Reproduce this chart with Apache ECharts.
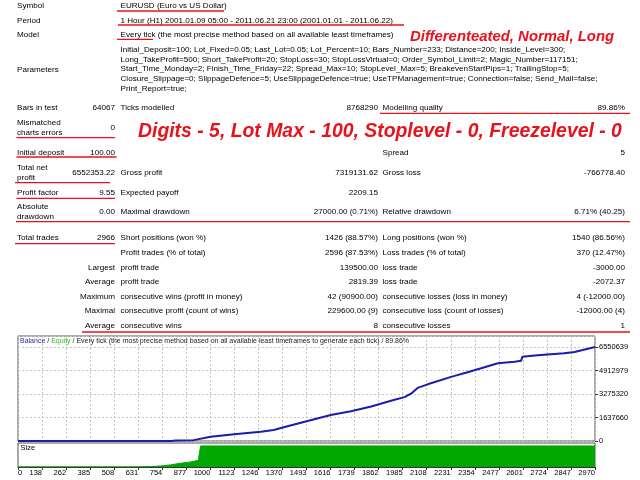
<!DOCTYPE html>
<html>
<head>
<meta charset="utf-8">
<script src="https://cdn.jsdelivr.net/npm/echarts@6.0.0/dist/echarts.min.js"></script>
<style>
  html, body { margin: 0; padding: 0; background: #fff; }
  #main { width: 640px; height: 480px; }
</style>
</head>
<body>
<div id="main"></div>
<script>
// 报告头部
const headerRows = [
  ['Symbol', 'EURUSD (Euro vs US Dollar)'],
  ['Period', '1 Hour (H1) 2001.01.09 05:00 - 2011.06.21 23:00 (2001.01.01 - 2011.06.22)'],
  ['Model', 'Every tick (the most precise method based on all available least timeframes)']
];
const paramLines = [
  'Initial_Deposit=100; Lot_Fixed=0.05; Last_Lot=0.05; Lot_Percent=10; Bars_Number=233; Distance=200; Inside_Level=300;',
  'Long_TakeProfit=500; Short_TakeProfit=20; StopLoss=30; StopLossVirtual=0; Order_Symbol_Limit=2; Magic_Number=117151;',
  'Start_Time_Monday=2; Finish_Time_Friday=22; Spread_Max=10; StopLevel_Max=5; BreakevenStartPips=1; TrailingStop=5;',
  'Closure_Slippage=0; SlippageDefence=5; UseSlippageDefence=true; UseTPManagement=true; Connection=false; Send_Mail=false;',
  'Print_Report=true;'
];
const noteTop = 'Differenteated, Normal, Long';
const noteMid = 'Digits - 5, Lot Max - 100, Stoplevel - 0, Freezelevel - 0';

// 统计表格
const summaryRows = [
  ['Bars in test', '64067', 'Ticks modelled', '8768290', 'Modelling quality', '89.86%'],
  ['Mismatched\ncharts errors', '0', '', '', '', ''],
  ['Initial deposit', '100.00', '', '', 'Spread', '5'],
  ['Total net\nprofit', '6552353.22', 'Gross profit', '7319131.62', 'Gross loss', '-766778.40'],
  ['Profit factor', '9.55', 'Expected payoff', '2209.15', '', ''],
  ['Absolute\ndrawdown', '0.00', 'Maximal drawdown', '27000.00 (0.71%)', 'Relative drawdown', '6.71% (40.25)'],
  ['Total trades', '2966', 'Short positions (won %)', '1426 (88.57%)', 'Long positions (won %)', '1540 (86.56%)']
];
const tradeRows = [
  ['', 'Profit trades (% of total)', '2596 (87.53%)', 'Loss trades (% of total)', '370 (12.47%)'],
  ['Largest', 'profit trade', '139500.00', 'loss trade', '-3000.00'],
  ['Average', 'profit trade', '2819.39', 'loss trade', '-2072.37'],
  ['Maximum', 'consecutive wins (profit in money)', '42 (90900.00)', 'consecutive losses (loss in money)', '4 (-12000.00)'],
  ['Maximal', 'consecutive profit (count of wins)', '229600.00 (9)', 'consecutive loss (count of losses)', '-12000.00 (4)'],
  ['Average', 'consecutive wins', '8', 'consecutive losses', '1']
];

// 图表数据
const balanceTrades = [0, 790, 810, 904, 992, 1113, 1250, 1316, 1368, 1456, 1560, 1610, 1714, 1818, 1920, 1989, 2023, 2057, 2109, 2229, 2314, 2384, 2470, 2556, 2590, 2596, 2675, 2811, 2865, 2970];
const balanceValues = [100, 5000, 30000, 60000, 300000, 467000, 648000, 767000, 955000, 1275000, 1640000, 1812000, 2070000, 2400000, 2800000, 3060000, 3300000, 3700000, 3950000, 4470000, 4790000, 5066000, 5415000, 5526000, 5600000, 5875000, 5972000, 6112000, 6202000, 6552453];
const sizeTrades = [0, 613, 683, 734, 785, 837, 890, 930, 940, 2970];
const sizeLots = [0.5, 2, 5, 10, 18, 24, 32, 45, 100, 100];
const xTickLabels = ['0', '138', '262', '385', '508', '631', '754', '877', '1000', '1123', '1246', '1370', '1493', '1616', '1739', '1862', '1985', '2108', '2231', '2354', '2477', '2601', '2724', '2847', '2970'];
const yTickLabels = ['0', '1637660', '3275320', '4912979', '6550639'];

// 版式
const FONT = '8.1px "Liberation Sans", Arial, sans-serif';
const RED = '#e8121c';
const colA = 17, colAR = 115, colB = 120.5, colBR = 378, colC = 382.5, colCR = 625;
const summaryY = [108, 128, 153, 173, 193, 211.5, 238];
const tradeY = [252.5, 267.5, 282, 297, 311, 325.5];

function txt(x, y, s, align, font, fill) {
  return {
    type: 'text', x: x, y: y, silent: true,
    style: {
      text: s, font: font || FONT, fill: fill || '#000',
      align: align || 'left', textAlign: align || 'left',
      verticalAlign: 'middle', textVerticalAlign: 'middle', lineHeight: 10
    }
  };
}
function redLine(x1, x2, y) {
  return { type: 'line', silent: true, shape: { x1: x1, y1: y, x2: x2, y2: y }, style: { stroke: RED, lineWidth: 1.3 } };
}

const els = [];
const headerY = [6, 20.7, 35];
headerRows.forEach((r, i) => {
  els.push(txt(colA, headerY[i], r[0]));
  els.push(txt(colB, headerY[i], r[1]));
});
els.push(txt(colA, 69.5, 'Parameters'));
paramLines.forEach((s, i) => els.push(txt(colB, 49.5 + i * 9.8, s)));

summaryRows.forEach((r, i) => {
  const y = summaryY[i];
  els.push(txt(colA, y, r[0]));
  els.push(txt(colAR, y, r[1], 'right'));
  els.push(txt(colB, y, r[2]));
  els.push(txt(colBR, y, r[3], 'right'));
  els.push(txt(colC, y, r[4]));
  els.push(txt(colCR, y, r[5], 'right'));
});
tradeRows.forEach((r, i) => {
  const y = tradeY[i];
  els.push(txt(colAR, y, r[0], 'right'));
  els.push(txt(colB, y, r[1]));
  els.push(txt(colBR, y, r[2], 'right'));
  els.push(txt(colC, y, r[3]));
  els.push(txt(colCR, y, r[4], 'right'));
});

els.push(txt(410, 37, noteTop, 'left', 'italic bold 14.9px "Liberation Sans", Arial, sans-serif', RED));
els.push(txt(138, 131.5, noteMid, 'left', 'italic bold 19.4px "Liberation Sans", Arial, sans-serif', RED));

// 红色下划线
els.push(redLine(117, 224, 11));
els.push(redLine(118, 404, 25));
els.push(redLine(117, 153, 39.3));
els.push(redLine(380, 630, 113.3));
els.push(redLine(16.5, 115, 137.7));
els.push(redLine(16.5, 116.5, 157));
els.push(redLine(15, 110, 182.7));
els.push(redLine(16.5, 115, 198.3));
els.push(redLine(16, 630, 221.7));
els.push(redLine(15, 115, 243.7));
els.push(redLine(82, 630, 332));

els.push(txt(20.5, 448, 'Size', 'left', '7.5px "Liberation Sans", Arial, sans-serif'));

const xInterval = 2970 / 24;
const yMaxTick = 6550640;
const yInterval = yMaxTick / 4;
const gridLine = { show: true, lineStyle: { color: '#c4c4c4', type: [2, 2], width: 1 } };

const chart = echarts.init(document.getElementById('main'), null, { renderer: 'canvas' });
chart.setOption({
  animation: false,
  backgroundColor: '#fff',
  textStyle: { fontFamily: '"Liberation Sans", Arial, sans-serif' },
  title: {
    left: 17, top: 338, padding: [0, 0, 0, 3],
    text: '{b|Balance} / {e|Equity} / Every tick (the most precise method based on all available least timeframes to generate each tick) / 89.86%',
    textStyle: {
      fontSize: 7, fontWeight: 'normal', color: '#222',
      rich: { b: { color: '#2b2ba8', fontSize: 7 }, e: { color: '#22c422', fontSize: 7 } }
    }
  },
  grid: [
    { left: 18, top: 336, width: 577, height: 105, show: true, borderColor: '#555', borderWidth: 1, backgroundColor: '#fff' },
    { left: 18, top: 443, width: 577, height: 24, show: true, borderColor: '#555', borderWidth: 1, backgroundColor: '#fff' }
  ],
  xAxis: [
    {
      type: 'value', gridIndex: 0, min: 0, max: 2970, interval: xInterval,
      axisLine: { show: false, onZero: false }, axisTick: { show: false }, axisLabel: { show: false },
      splitLine: gridLine
    },
    {
      type: 'value', gridIndex: 1, min: 0, max: 2970, interval: xInterval,
      axisLine: { show: true, onZero: false, lineStyle: { color: '#333' } },
      axisTick: { show: true, length: 3, lineStyle: { color: '#333' } },
      axisLabel: {
        margin: 2, fontSize: 7.5, color: '#000', align: 'right',
        alignMinLabel: 'left', showMinLabel: true, showMaxLabel: true, hideOverlap: false,
        formatter: v => xTickLabels[Math.round(v / xInterval)] || ''
      },
      splitLine: { show: false }
    }
  ],
  yAxis: [
    {
      type: 'value', gridIndex: 0, position: 'right', min: 0, max: yMaxTick * 105 / 94, interval: yInterval,
      axisLine: { show: false, onZero: false },
      axisTick: { show: true, length: 3, lineStyle: { color: '#333' } },
      axisLabel: {
        margin: 4, fontSize: 7.5, color: '#000', showMaxLabel: false,
        formatter: v => {
          const i = Math.round(v / yInterval);
          return Math.abs(v - i * yInterval) < 2 ? (yTickLabels[i] || '') : '';
        }
      },
      splitLine: gridLine
    },
    {
      type: 'value', gridIndex: 1, min: 0, max: 114, show: false,
      axisLine: { onZero: false }, splitLine: { show: false }
    }
  ],
  series: [
    {
      type: 'line', name: 'Size', xAxisIndex: 1, yAxisIndex: 1, step: 'end',
      symbol: 'none', silent: true,
      lineStyle: { color: '#00a800', width: 1 },
      areaStyle: { color: '#00a800', opacity: 1 },
      data: sizeTrades.map((t, i) => [t, sizeLots[i]])
    },
    {
      type: 'line', name: 'Balance', xAxisIndex: 0, yAxisIndex: 0,
      symbol: 'none', silent: true,
      lineStyle: { color: '#1c1ca8', width: 2 },
      data: balanceTrades.map((t, i) => [t, balanceValues[i]])
    }
  ],
  graphic: { elements: els }
});
</script>
</body>
</html>
